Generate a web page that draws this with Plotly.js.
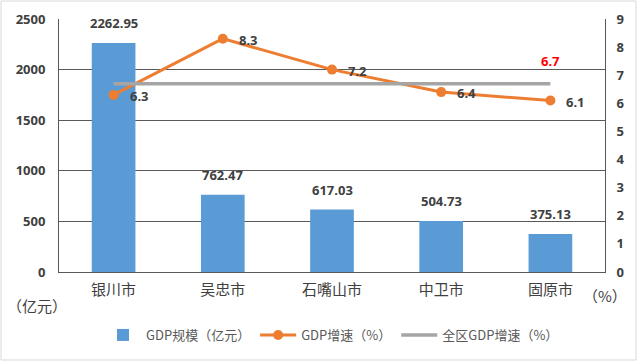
<!DOCTYPE html>
<html>
<head>
<meta charset="utf-8">
<script src="https://cdn.plot.ly/plotly-3.0.1.min.js"></script>
<style>html,body{margin:0;padding:0;background:#fff;}#chart{width:638px;height:362px;}</style>
</head>
<body>
<div id="chart"></div>
<script>
const cities = ['银川市', '吴忠市', '石嘴山市', '中卫市', '固原市'];
const gdpScale = [2262.95, 762.47, 617.03, 504.73, 375.13];
const gdpGrowth = [6.3, 8.3, 7.2, 6.4, 6.1];
const regionGrowth = [6.7, 6.7, 6.7, 6.7, 6.7];
const seriesNames = ['GDP规模（亿元）', 'GDP增速（%）', '全区GDP增速（%）'];

const cjk = '"Noto Sans CJK SC", "Microsoft YaHei", sans-serif';
const numFont = '"Noto Sans", "Liberation Sans", sans-serif';
const txt = '#404040';

const traces = [
  {
    type: 'bar', x: cities, y: gdpScale, name: seriesNames[0],
    marker: {color: '#5b9bd5'}, width: 0.4, yaxis: 'y', hoverinfo: 'skip'
  },
  {
    type: 'scatter', mode: 'lines+markers', x: cities, y: gdpGrowth, name: seriesNames[1],
    yaxis: 'y2', line: {color: '#ed7d31', width: 3}, marker: {color: '#ed7d31', size: 10},
    hoverinfo: 'skip'
  },
  {
    type: 'scatter', mode: 'lines', x: cities, y: regionGrowth, name: seriesNames[2],
    yaxis: 'y2', line: {color: '#a5a5a5', width: 3.5}, hoverinfo: 'skip'
  }
];

const annotations = cities.map((c, i) => ({
  x: c, y: gdpScale[i], xref: 'x', yref: 'y', text: gdpScale[i].toFixed(2),
  showarrow: false, yanchor: 'bottom', yshift: 9,
  font: {family: numFont, size: 13, color: txt, weight: 'bold'}
}));
cities.forEach((c, i) => annotations.push({
  x: c, y: gdpGrowth[i], xref: 'x', yref: 'y2', text: gdpGrowth[i].toFixed(1),
  showarrow: false, xanchor: 'left', yanchor: 'middle', xshift: 14, yshift: -1,
  font: {family: numFont, size: 13, color: txt, weight: 'bold'}
}));
annotations.push({
  x: cities[cities.length - 1], y: regionGrowth[regionGrowth.length - 1], xref: 'x', yref: 'y2',
  text: regionGrowth[regionGrowth.length - 1].toFixed(1), showarrow: false, yanchor: 'bottom', yshift: 12,
  font: {family: numFont, size: 13, color: '#ff0000', weight: 'bold'}
});
annotations.push({
  x: -0.04, y: -0.134, xref: 'paper', yref: 'paper', text: '（亿元）', showarrow: false,
  xanchor: 'center', yanchor: 'middle', font: {family: cjk, size: 15, color: txt}
});
annotations.push({
  x: 1.0, y: -0.091, xref: 'paper', yref: 'paper', text: '（%）', showarrow: false,
  xanchor: 'center', yanchor: 'middle', font: {family: cjk, size: 15, color: txt}
});

const layout = {
  width: 638, height: 362,
  margin: {l: 59, r: 33, t: 19, b: 90},
  paper_bgcolor: '#ffffff', plot_bgcolor: '#ffffff',
  showlegend: true,
  legend: {orientation: 'h', x: 0.5, xanchor: 'center', y: -0.249, yanchor: 'middle',
           font: {family: cjk, size: 13, color: '#595959'}, traceorder: 'normal', itemwidth: 36},
  bargap: 0.6,
  xaxis: {
    type: 'category', showline: true, linecolor: '#595959', linewidth: 1,
    tickfont: {family: cjk, size: 15, color: txt}, ticks: '', showgrid: false, fixedrange: true,
    ticklabelstandoff: 4
  },
  yaxis: {
    range: [0, 2500], dtick: 500, showgrid: true, gridcolor: '#595959', gridwidth: 1,
    showline: true, linecolor: '#595959', linewidth: 1, zeroline: false,
    tickfont: {family: numFont, size: 13, color: txt, weight: 'bold'}, ticks: '', ticklen: 0,
    ticklabelstandoff: 10
  },
  yaxis2: {
    range: [0, 9], dtick: 1, overlaying: 'y', side: 'right', showgrid: false,
    showline: true, linecolor: '#595959', linewidth: 1, zeroline: false,
    tickfont: {family: numFont, size: 13, color: txt, weight: 'bold'}, ticks: '',
    ticklabelstandoff: 8
  },
  annotations: annotations,
  shapes: [{
    type: 'rect', xref: 'paper', yref: 'paper', x0: -0.1062, x1: 1.0568, y0: -0.3478, y1: 1.0711,
    line: {color: '#d9d9d9', width: 1}, fillcolor: 'rgba(0,0,0,0)', layer: 'below'
  }]
};

Plotly.newPlot('chart', traces, layout, {displayModeBar: false, staticPlot: true});
</script>
</body>
</html>
